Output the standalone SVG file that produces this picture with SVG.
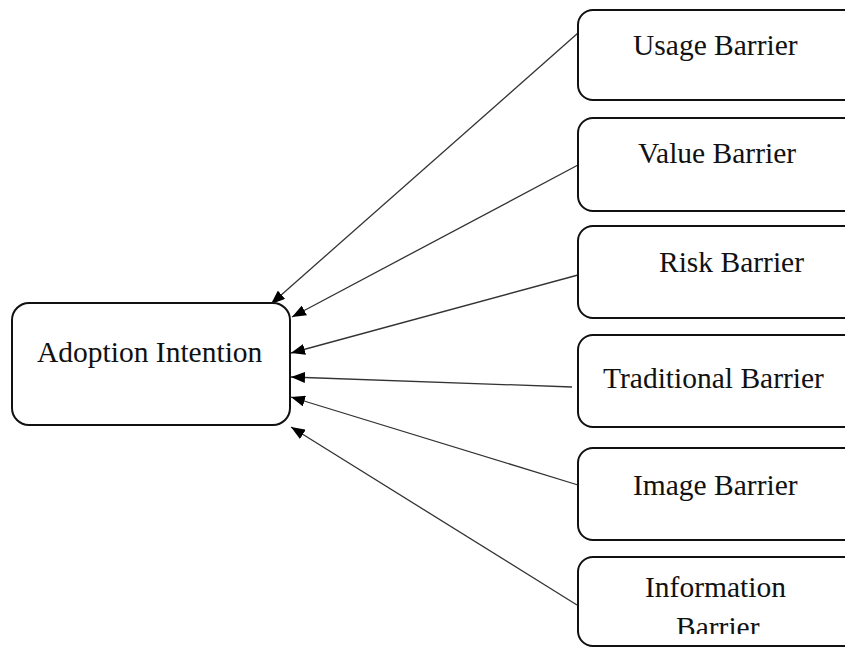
<svg xmlns="http://www.w3.org/2000/svg" width="845" height="648" viewBox="0 0 845 648">
  <style>
    .box { fill: #ffffff; stroke: #111111; stroke-width: 2; }
    .lbl { font-family: "Liberation Serif", "Times New Roman", serif; font-size: 29.5px; fill: #111111; }
    .edge { stroke: #333333; stroke-width: 1.3; fill: none; marker-end: url(#arrow); }
  </style>
  <defs>
    <marker id="arrow" viewBox="0 0 14 11" refX="14" refY="5.5" markerWidth="14" markerHeight="11" markerUnits="userSpaceOnUse" orient="auto">
      <path d="M0,0 L14,5.5 L0,11 Z" fill="#000000"/>
    </marker>
    <clipPath id="infoClip">
      <rect x="577" y="557" width="268" height="77"/>
    </clipPath>
  </defs>
  <rect width="845" height="648" fill="#ffffff"/>

  <g id="connectors">
    <line class="edge" x1="578" y1="33" x2="271" y2="304"/>
    <line class="edge" x1="578" y1="165" x2="292" y2="317"/>
    <line class="edge" x1="578" y1="275" x2="291" y2="353"/>
    <line class="edge" x1="572" y1="387" x2="291" y2="377"/>
    <line class="edge" x1="578" y1="485" x2="291" y2="397"/>
    <line class="edge" x1="577" y1="605" x2="291" y2="427"/>
  </g>

  <g id="adoption-intention">
    <rect class="box" x="12" y="303" width="278" height="122" rx="17" ry="17"/>
    <text class="lbl" x="37" y="362">Adoption Intention</text>
  </g>

  <g id="usage-barrier">
    <rect class="box" x="578" y="10" width="300" height="90" rx="15" ry="15"/>
    <text class="lbl" x="633" y="55">Usage Barrier</text>
  </g>

  <g id="value-barrier">
    <rect class="box" x="578" y="118" width="300" height="93" rx="15" ry="15"/>
    <text class="lbl" x="638" y="163">Value Barrier</text>
  </g>

  <g id="risk-barrier">
    <rect class="box" x="578" y="226" width="300" height="92" rx="15" ry="15"/>
    <text class="lbl" x="659" y="272">Risk Barrier</text>
  </g>

  <g id="traditional-barrier">
    <rect class="box" x="578" y="335" width="300" height="92" rx="15" ry="15"/>
    <text class="lbl" x="603" y="388">Traditional Barrier</text>
  </g>

  <g id="image-barrier">
    <rect class="box" x="578" y="448" width="300" height="92" rx="15" ry="15"/>
    <text class="lbl" x="633" y="495">Image Barrier</text>
  </g>

  <g id="information-barrier">
    <rect class="box" x="578" y="557" width="300" height="89" rx="15" ry="15"/>
    <g clip-path="url(#infoClip)">
      <text class="lbl" x="645" y="597">Information</text>
      <text class="lbl" x="676" y="637">Barrier</text>
    </g>
  </g>
</svg>
